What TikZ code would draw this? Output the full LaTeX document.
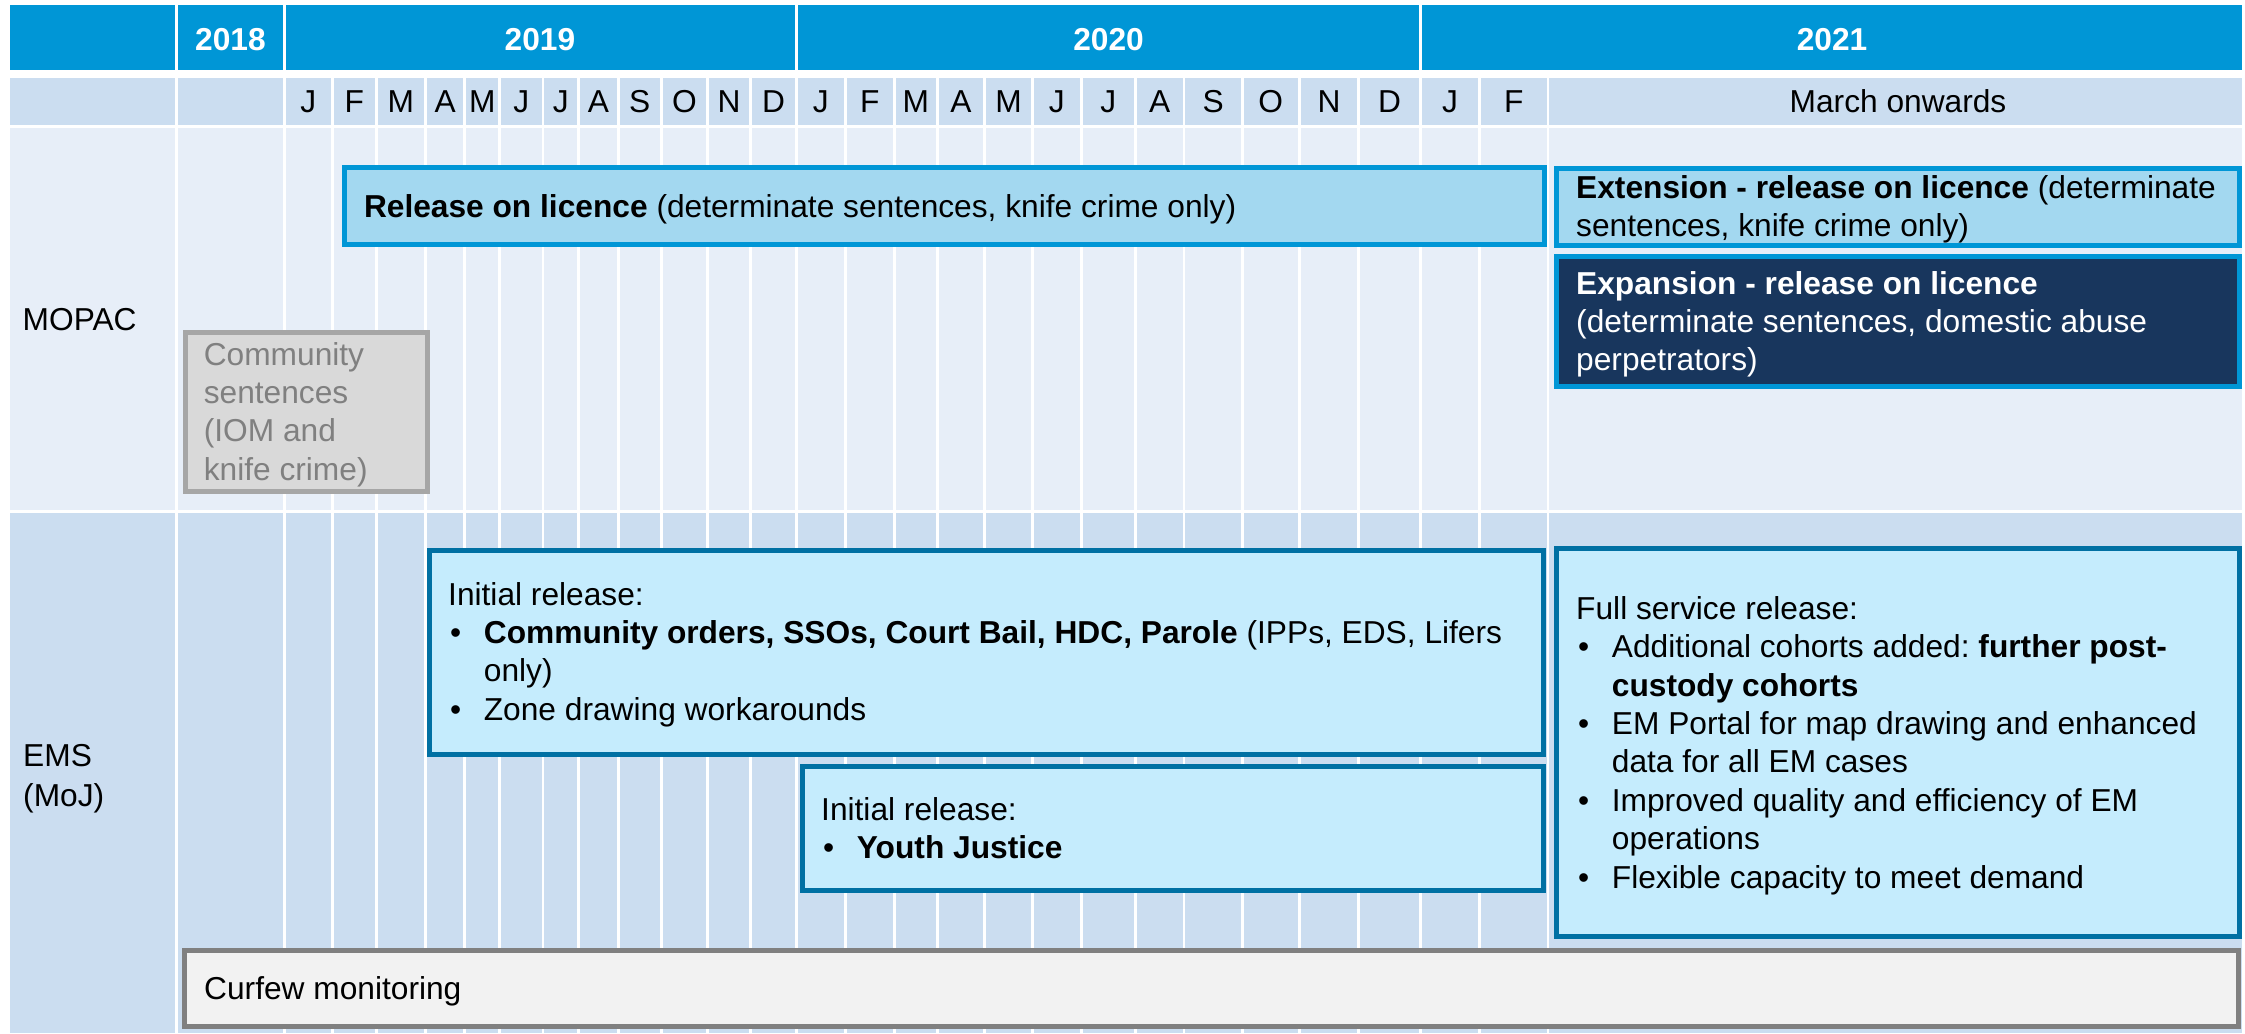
\documentclass[tikz,border=0pt]{standalone}
\usepackage{fontspec}
\setmainfont{Liberation Sans}
\frenchspacing
\definecolor{hdrblue}{RGB}{0,150,214}
\definecolor{rowblue}{RGB}{203,221,240}
\definecolor{rowlight}{RGB}{231,238,248}
\definecolor{licfill}{RGB}{163,216,240}
\definecolor{licborder}{RGB}{0,150,214}
\definecolor{expfill}{RGB}{24,54,93}
\definecolor{emsfill}{RGB}{197,236,253}
\definecolor{emsborder}{RGB}{0,112,163}
\definecolor{commfill}{RGB}{217,217,217}
\definecolor{commborder}{RGB}{166,166,166}
\definecolor{commtext}{RGB}{128,128,128}
\definecolor{curfill}{RGB}{242,242,242}
\definecolor{curborder}{RGB}{128,128,128}
\newcommand\bodyfont{\fontsize{31.7}{38.4}\selectfont\frenchspacing}
\newcommand\bulitem{\makebox[35.7pt][l]{\hspace{2pt}\textbullet}}
\newcommand\contind{\hspace*{35.7pt}}
\tikzset{
  gridline/.style={white, line width=2.8pt},
  yeartxt/.style={font=\bodyfont\bfseries, text=white, anchor=base, inner sep=0pt},
  monthtxt/.style={font=\bodyfont, anchor=base, inner sep=0pt},
  bodytxt/.style={font=\bodyfont, anchor=base west, inner sep=0pt},
  licbox/.style={fill=licfill, draw=licborder, line width=5pt},
  expbox/.style={fill=expfill, draw=licborder, line width=5pt},
  emsbox/.style={fill=emsfill, draw=emsborder, line width=5pt},
  commbox/.style={fill=commfill, draw=commborder, line width=5pt},
  curbox/.style={fill=curfill, draw=curborder, line width=5pt}
}
\begin{document}
\begin{tikzpicture}[x=1pt,y=-1pt]
\useasboundingbox[fill=white] (0,0) rectangle (2245,1033);
% header row
\fill[hdrblue] (10,5) rectangle (2242,70);
\foreach \g in {176.5,284.2,796.2,1420.3} \draw[gridline] (\g,5) -- (\g,70);
% month row and body rows
\fill[rowblue] (10,78) rectangle (2242,125);
\fill[rowlight] (10,127.5) rectangle (2242,509.5);
\fill[rowblue] (10,512.5) rectangle (2242,1033);
\foreach \g in {176.5,284.2,332.2,376.3,425.4,464.8,499.7,543,578.7,618.4,661.2,707.5,750.7,796.2,845.5,894.1,937.3,984.5,1032.5,1081.3,1135.3,1184,1242.3,1299.3,1358.6,1420.3,1479.6,1548}
  \draw[gridline] (\g,78) -- (\g,1033);
% years
\node[yeartxt] (y2018) at (230.5,51) {2018};
\node[yeartxt] (y2019) at (540,51) {2019};
\node[yeartxt] (y2020) at (1108.5,51) {2020};
\node[yeartxt] (y2021) at (1832,51) {2021};
% months
\foreach \a/\b/\m [count=\i] in {284.2/332.2/J,332.2/376.3/F,376.3/425.4/M,425.4/464.8/A,464.8/499.7/M,499.7/543/J,543/578.7/J,578.7/618.4/A,618.4/661.2/S,661.2/707.5/O,707.5/750.7/N,750.7/796.2/D,796.2/845.5/J,845.5/894.1/F,894.1/937.3/M,937.3/984.5/A,984.5/1032.5/M,1032.5/1081.3/J,1081.3/1135.3/J,1135.3/1184/A,1184/1242.3/S,1242.3/1299.3/O,1299.3/1358.6/N,1358.6/1420.3/D,1420.3/1479.6/J,1479.6/1548/F}
  \node[monthtxt] (mon\i) at ({(\a+\b)/2},112.3) {\m};
\node[monthtxt] (march) at (1898,112.3) {March onwards};
% row labels
\node[bodytxt] (mopac) at (22.5,330.7) {MOPAC};
\node[bodytxt] (ems) at (23,766.7) {\parbox[t]{150pt}{\fontsize{31.7}{40}\selectfont EMS\\(MoJ)}};
% MOPAC boxes
\draw[licbox] (344.5,167.5) rectangle (1544.5,244);
\node[bodytxt] (lictxt) at (363.8,217.3) {\textbf{Release on licence} (determinate sentences, knife crime only)};
\draw[licbox] (1556.5,168.5) rectangle (2239.5,245);
\node[bodytxt] (exttxt) at (1576,198.3) {\parbox[t]{660pt}{\bodyfont\textbf{Extension - release on licence} (determinate\\sentences, knife crime only)}};
\draw[expbox] (1556.5,256.5) rectangle (2239.5,386.5);
\node[bodytxt, text=white] (exptxt) at (1576,294) {\parbox[t]{660pt}{\bodyfont\textbf{Expansion - release on licence}\\(determinate sentences, domestic abuse\\perpetrators)}};
\draw[commbox] (185,332.5) rectangle (427.5,491);
\node[bodytxt, text=commtext] (commtxt) at (203.6,365) {\parbox[t]{220pt}{\bodyfont Community\\sentences\\(IOM and\\knife crime)}};
% EMS boxes
\draw[emsbox] (429.5,550.5) rectangle (1543,754);
\node[bodytxt] (init1txt) at (448,605) {\parbox[t]{1090pt}{\bodyfont Initial release:\\\bulitem\textbf{Community orders, SSOs, Court Bail, HDC, Parole} (IPPs, EDS, Lifers\\\contind only)\\\bulitem Zone drawing workarounds}};
\draw[emsbox] (802,766.5) rectangle (1543,890);
\node[bodytxt] (init2txt) at (821,820) {\parbox[t]{700pt}{\bodyfont Initial release:\\\bulitem\textbf{Youth Justice}}};
\draw[emsbox] (1556.5,548.5) rectangle (2239.5,936);
\node[bodytxt] (fulltxt) at (1576,619.3) {\parbox[t]{660pt}{\bodyfont Full service release:\\\bulitem Additional cohorts added: \textbf{further post-}\\\contind\textbf{custody cohorts}\\\bulitem EM Portal for map drawing and enhanced\\\contind data for all EM cases\\\bulitem Improved quality and efficiency of EM\\\contind operations\\\bulitem Flexible capacity to meet demand}};
\draw[curbox] (184.5,950) rectangle (2238.5,1026);
\node[bodytxt] (curtxt) at (204,999) {Curfew monitoring};
\end{tikzpicture}
\end{document}
